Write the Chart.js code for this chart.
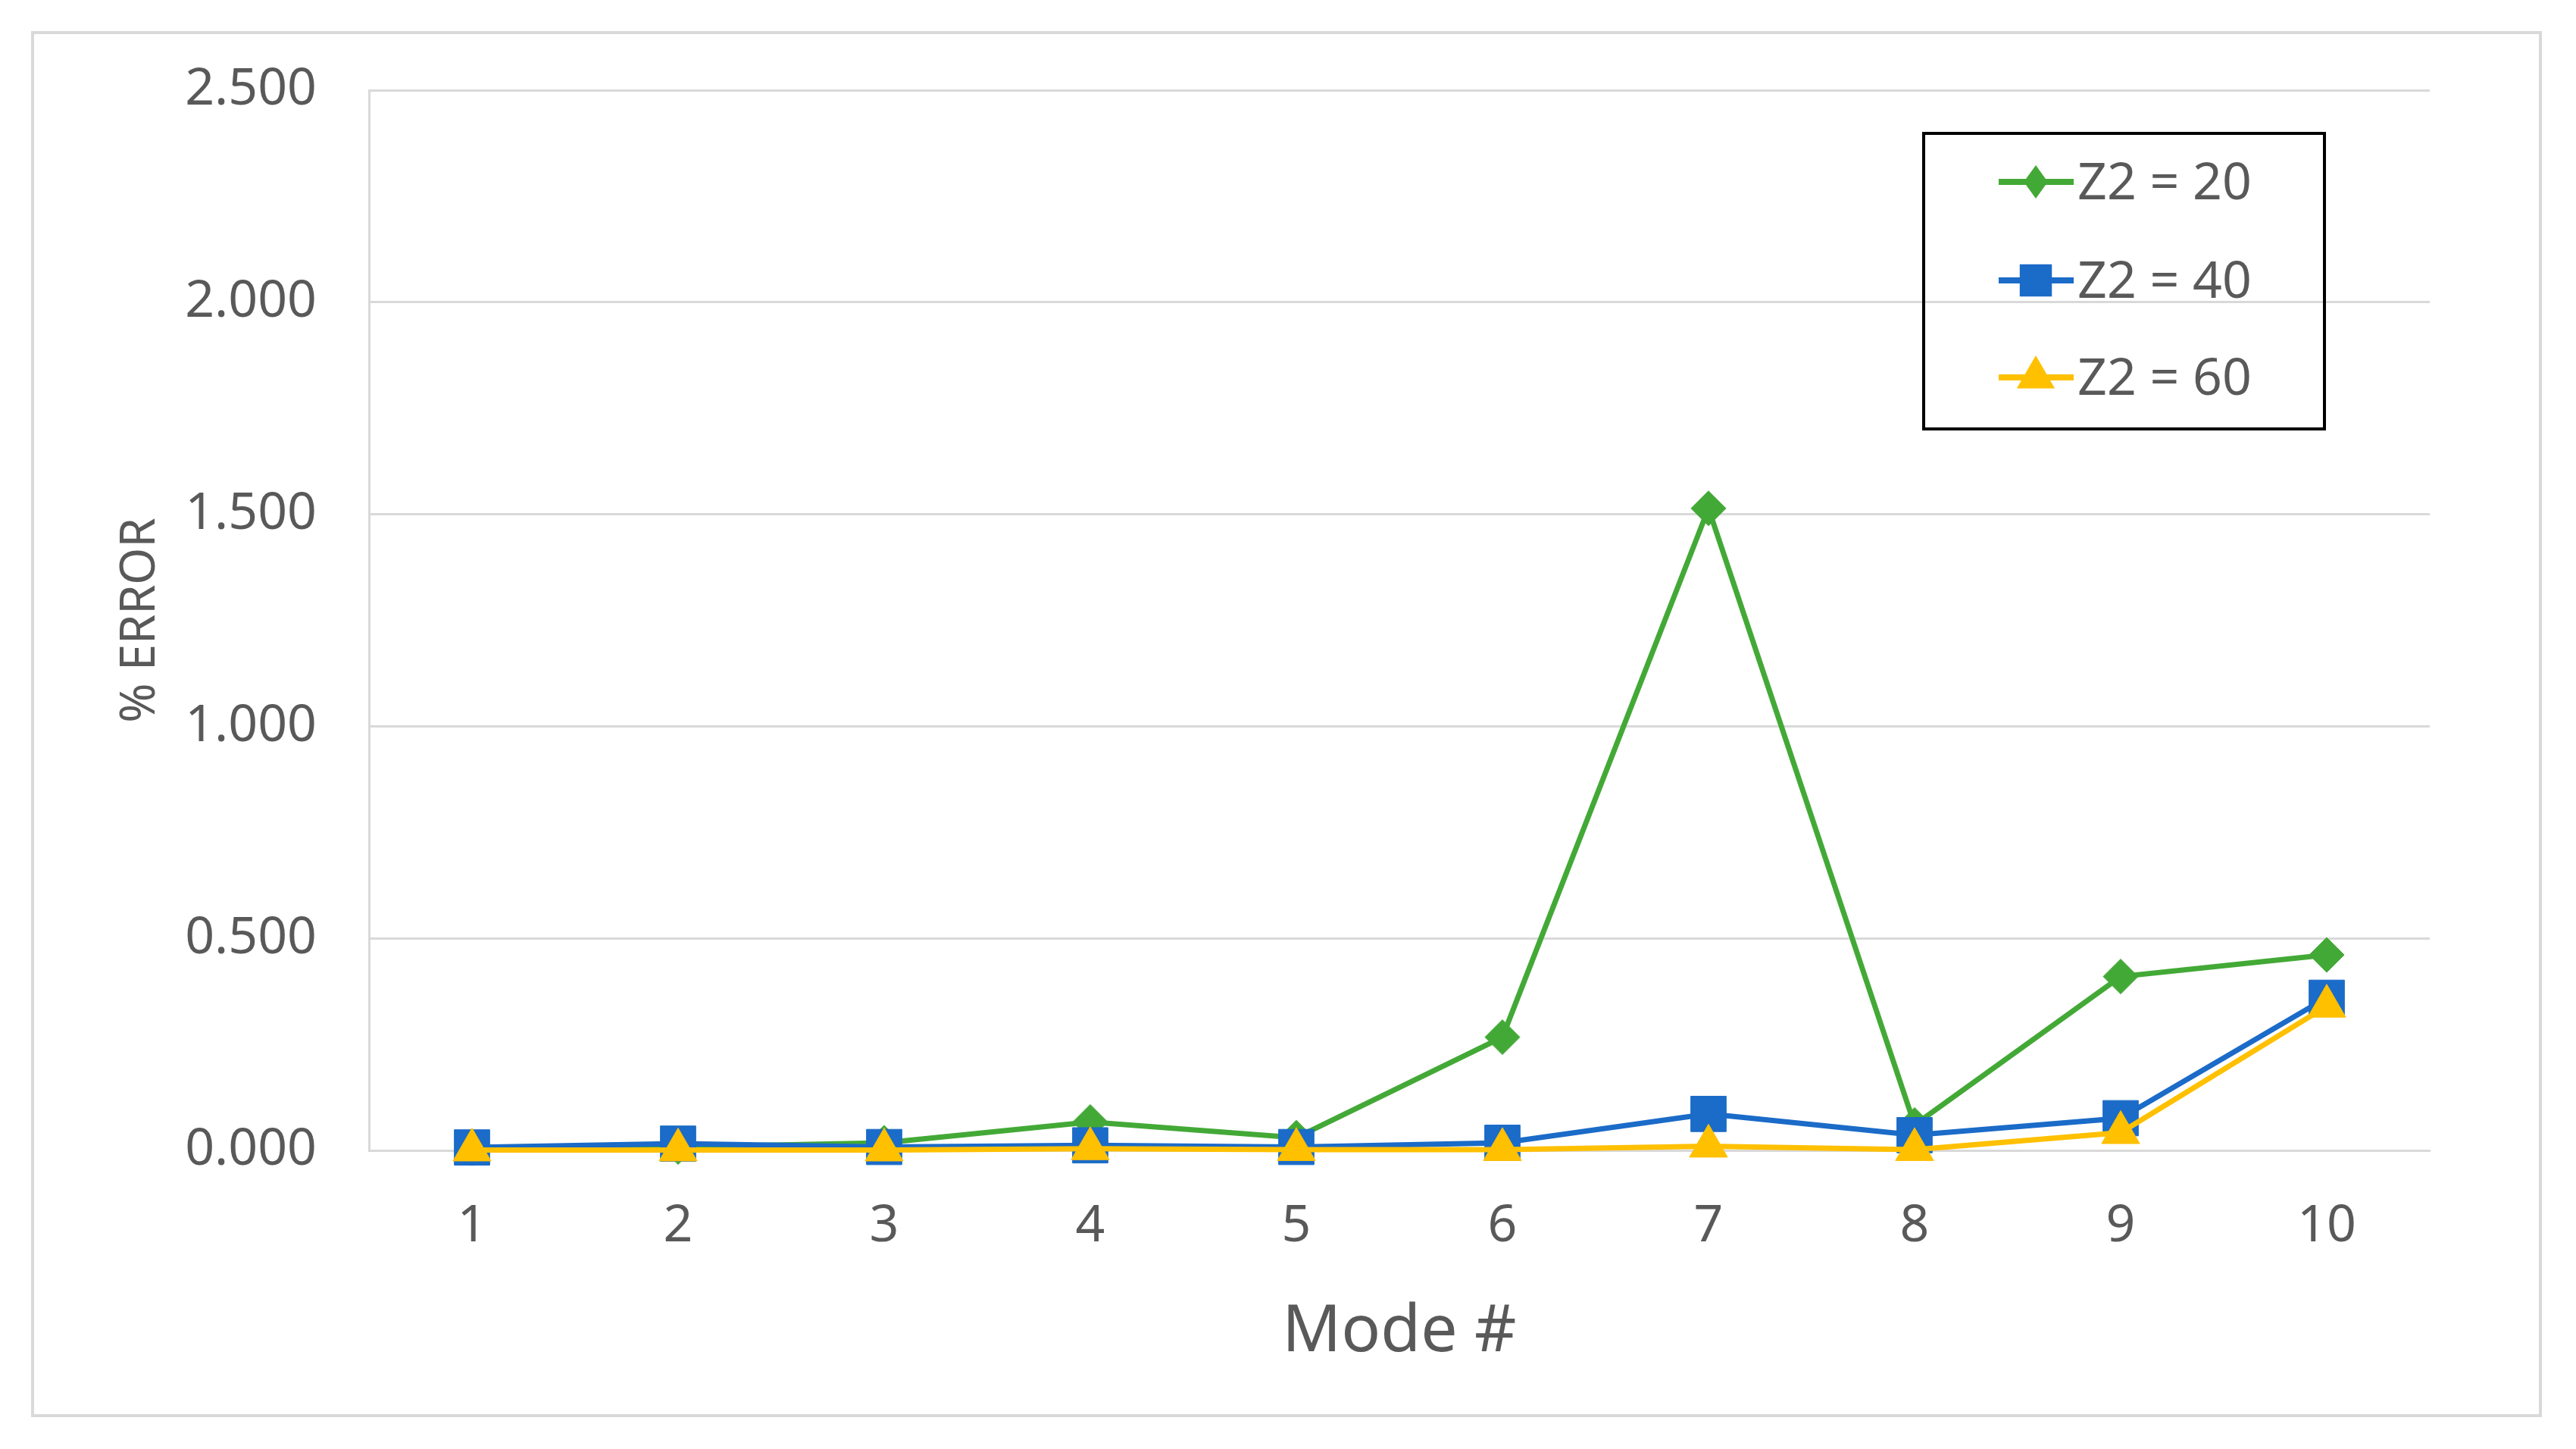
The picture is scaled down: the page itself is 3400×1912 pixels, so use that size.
<!DOCTYPE html>
<html>
<head>
<meta charset="utf-8">
<title>% Error by mode</title>
<script src="https://cdn.jsdelivr.net/npm/chart.js@4.4.0/dist/chart.umd.min.js"></script>
<style>
  html, body { margin: 0; padding: 0; background: #fff; }
  #errChart { display: block; }
</style>
</head>
<body>
<canvas id="errChart" width="3400" height="1912"></canvas>
<script>
// values
var modes = ['1', '2', '3', '4', '5', '6', '7', '8', '9', '10'];
var z2_20 = [0.005, 0.008, 0.018, 0.067, 0.030, 0.267, 1.514, 0.060, 0.410, 0.461];
var z2_40 = [0.007, 0.016, 0.008, 0.012, 0.008, 0.018, 0.086, 0.036, 0.076, 0.360];
var z2_60 = [0.001, 0.001, 0.001, 0.004, 0.002, 0.002, 0.010, 0.002, 0.042, 0.340];
var yTicks = [0, 0.5, 1.0, 1.5, 2.0, 2.5];
var seriesNames = ['Z2 = 20', 'Z2 = 40', 'Z2 = 60'];

var GREEN = '#43a936';
var BLUE = '#1b6bc8';
var GOLD = '#ffc000';
var TEXT = '#595959';
var GRID = '#d9d9d9';
var FONT = "'Noto Sans', 'Open Sans', sans-serif";

Chart.defaults.font.family = FONT;
Chart.defaults.color = TEXT;

// light grey frame round the whole chart, like the Excel chart area
var frame = {
  id: 'frame',
  beforeDraw: function(chart) {
    var ctx = chart.ctx;
    ctx.save();
    ctx.fillStyle = '#fff';
    ctx.fillRect(0, 0, chart.width, chart.height);
    ctx.strokeStyle = GRID;
    ctx.lineWidth = 4;
    ctx.strokeRect(43, 43, 3310, 1825);
    ctx.restore();
  }
};

// small shape helper for the legend swatches
function marker(ctx, style, x, y, r) {
  ctx.beginPath();
  if (style === 'rectRot') {
    ctx.moveTo(x, y - r); ctx.lineTo(x + r * 0.72, y); ctx.lineTo(x, y + r); ctx.lineTo(x - r * 0.72, y);
  } else if (style === 'rect') {
    var h = r * Math.SQRT1_2;
    ctx.rect(x - h, y - h, 2 * h, 2 * h);
  } else {
    ctx.moveTo(x, y - r); ctx.lineTo(x + r * 0.866, y + r * 0.5); ctx.lineTo(x - r * 0.866, y + r * 0.5);
  }
  ctx.closePath();
  ctx.fill();
}

// boxed legend with line + marker, drawn from the dataset styles
var boxLegend = {
  id: 'boxLegend',
  afterDraw: function(chart) {
    var ctx = chart.ctx;
    var rows = [240, 370, 498];
    ctx.save();
    ctx.strokeStyle = '#000';
    ctx.lineWidth = 4;
    ctx.strokeRect(2539, 176, 529, 390);
    chart.data.datasets.forEach(function(ds, i) {
      var y = rows[i];
      ctx.strokeStyle = ds.borderColor;
      ctx.lineWidth = ds.borderWidth + 1;
      ctx.beginPath();
      ctx.moveTo(2638, y);
      ctx.lineTo(2737, y);
      ctx.stroke();
      ctx.fillStyle = ds.backgroundColor;
      marker(ctx, ds.pointStyle, 2687, y, ds.legendRadius);
      ctx.fillStyle = TEXT;
      ctx.font = '68px ' + FONT;
      ctx.textAlign = 'left';
      ctx.textBaseline = 'middle';
      ctx.fillText(ds.label, 2742, y + 4);
    });
    ctx.restore();
  }
};

function series(label, values, color, style, radius, legendRadius, order) {
  return {
    label: label,
    data: values,
    borderColor: color,
    backgroundColor: color,
    borderWidth: 7,
    tension: 0,
    pointStyle: style,
    pointRadius: radius,
    pointHoverRadius: radius,
    pointBorderWidth: 1,
    pointBorderColor: color,
    pointBackgroundColor: color,
    legendRadius: legendRadius,
    order: order,
    clip: false
  };
}

var ctx = document.getElementById('errChart');
var errChart = new Chart(ctx, {
  type: 'line',
  data: {
    labels: modes,
    datasets: [
      series(seriesNames[0], z2_20, GREEN, 'rectRot', 23, 22, 3),
      series(seriesNames[1], z2_40, BLUE, 'rect', 33, 30, 2),
      series(seriesNames[2], z2_60, GOLD, 'triangle', 29, 29, 1)
    ]
  },
  options: {
    responsive: false,
    animation: false,
    devicePixelRatio: 1,
    layout: { padding: { top: 119, right: 193, left: 0, bottom: 0 } },
    plugins: {
      legend: { display: false },
      tooltip: { enabled: false }
    },
    scales: {
      x: {
        type: 'category',
        offset: true,
        grid: { display: false, drawTicks: false },
        border: { display: true, color: GRID, width: 3 },
        ticks: { padding: 60, color: TEXT, font: { size: 68 } },
        title: {
          display: true,
          text: 'Mode #',
          color: TEXT,
          font: { size: 86 },
          padding: { top: 0, bottom: 102 }
        },
        afterFit: function(scale) { scale.height = 394; }
      },
      y: {
        min: 0,
        max: 2.5,
        afterBuildTicks: function(scale) {
          scale.ticks = yTicks.map(function(v) { return { value: v }; });
        },
        grid: { color: GRID, lineWidth: 3, drawTicks: false },
        border: { display: true, color: GRID, width: 3 },
        ticks: {
          padding: 69,
          color: TEXT,
          font: { size: 68 },
          callback: function(v) { return Number(v).toFixed(3); }
        },
        title: {
          display: true,
          text: '% ERROR',
          color: TEXT,
          font: { size: 63 },
          padding: { top: 148, bottom: 0 }
        },
        afterFit: function(scale) { scale.width = 487; }
      }
    }
  },
  plugins: [frame, boxLegend]
});
</script>
</body>
</html>
